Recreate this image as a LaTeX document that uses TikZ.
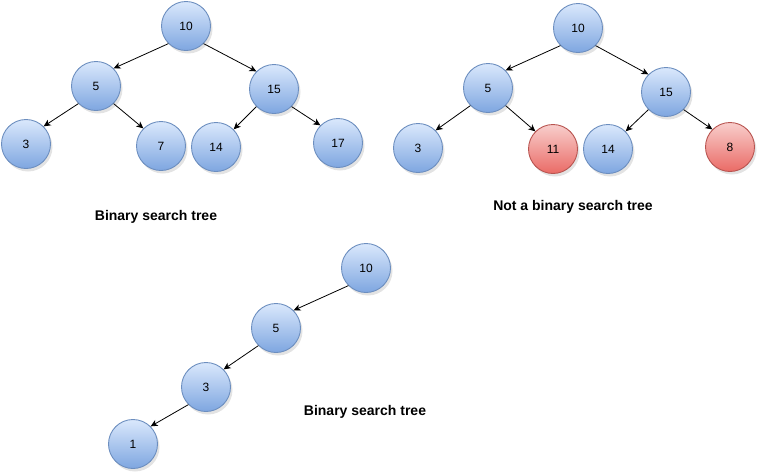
\documentclass[tikz,border=0pt]{standalone}
\usepackage{fontspec}
\setmainfont{Liberation Sans}
\usetikzlibrary{arrows.meta,shadows}
\definecolor{bluetop}{HTML}{DAE8FC}
\definecolor{bluebot}{HTML}{7EA6E0}
\definecolor{blueline}{HTML}{6C8EBF}
\definecolor{redtop}{HTML}{F8CECC}
\definecolor{redbot}{HTML}{EA6B66}
\definecolor{redline}{HTML}{B85450}

\begin{document}
\begin{tikzpicture}[x=1pt,y=-1pt,
  vertex/.style={circle, minimum size=49pt, inner sep=0pt, line width=0.9pt,
    font=\fontsize{12}{14}\selectfont,
    drop shadow={shadow xshift=2pt, shadow yshift=-3pt, opacity=0.22}},
  bluenode/.style={vertex, draw=blueline, top color=bluetop, bottom color=bluebot},
  rednode/.style={vertex, draw=redline, top color=redtop, bottom color=redbot},
  caption/.style={font=\fontsize{14}{16}\selectfont\bfseries},
  edge/.style={-{Stealth[length=7pt,width=6.5pt,inset=2pt]}, line width=0.8pt}]
\useasboundingbox (0,0) rectangle (758,475);

% first tree
\node[bluenode] (a10) at (186,26) {10};
\node[bluenode] (a5) at (96,86) {5};
\node[bluenode] (a15) at (274,89) {15};
\node[bluenode] (a3) at (26,144) {3};
\node[bluenode] (a7) at (161,146) {7};
\node[bluenode] (a14) at (216,147) {14};
\node[bluenode] (a17) at (338,143) {17};
\node[caption] (acap) at (156,217) {Binary search tree};
\draw[edge] (a10.south west) -- (a5.north east);
\draw[edge] (a10.south east) -- (a15.north west);
\draw[edge] (a5.south west) -- (a3.north east);
\draw[edge] (a5.south east) -- (a7.north west);
\draw[edge] (a15.south west) -- (a14.north east);
\draw[edge] (a15.south east) -- (a17.north west);

% second tree
\node[bluenode] (b10) at (578,28) {10};
\node[bluenode] (b5) at (488,88) {5};
\node[bluenode] (b15) at (666,92) {15};
\node[bluenode] (b3) at (418,148) {3};
\node[rednode] (b11) at (553,149) {11};
\node[bluenode] (b14) at (608,149) {14};
\node[rednode] (b8) at (730,147) {8};
\node[caption] (bcap) at (573,207) {Not a binary search tree};
\draw[edge] (b10.south west) -- (b5.north east);
\draw[edge] (b10.south east) -- (b15.north west);
\draw[edge] (b5.south west) -- (b3.north east);
\draw[edge] (b5.south east) -- (b11.north west);
\draw[edge] (b15.south west) -- (b14.north east);
\draw[edge] (b15.south east) -- (b8.north west);

% third tree
\node[bluenode] (c10) at (366,268) {10};
\node[bluenode] (c5) at (276,328) {5};
\node[bluenode] (c3) at (206,387) {3};
\node[bluenode] (c1) at (133,444) {1};
\node[caption] (ccap) at (365,412) {Binary search tree};
\draw[edge] (c10.south west) -- (c5.north east);
\draw[edge] (c5.south west) -- (c3.north east);
\draw[edge] (c3.south west) -- (c1.north east);
\end{tikzpicture}
\end{document}
